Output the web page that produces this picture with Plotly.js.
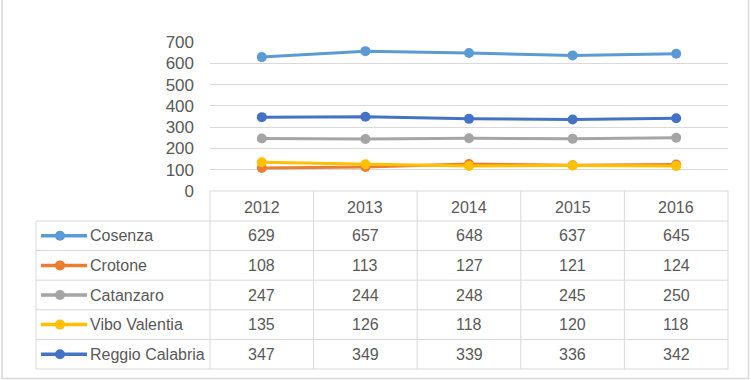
<!DOCTYPE html>
<html>
<head>
<meta charset="utf-8">
<script src="https://cdn.plot.ly/plotly-3.0.1.min.js"></script>
<style>html,body{margin:0;padding:0;background:#fff;}</style>
</head>
<body>
<div id="chart" style="width:751px;height:380px;"></div>
<script>
const years = ['2012', '2013', '2014', '2015', '2016'];
const seriesNames = ['Cosenza', 'Crotone', 'Catanzaro', 'Vibo Valentia', 'Reggio Calabria'];
const cosenza = [629, 657, 648, 637, 645];
const crotone = [108, 113, 127, 121, 124];
const catanzaro = [247, 244, 248, 245, 250];
const viboValentia = [135, 126, 118, 120, 118];
const reggioCalabria = [347, 349, 339, 336, 342];
const yTicks = [0, 100, 200, 300, 400, 500, 600, 700];

const seriesValues = [cosenza, crotone, catanzaro, viboValentia, reggioCalabria];
const colors = ['#5B9BD5', '#ED7D31', '#A5A5A5', '#FFC000', '#4472C4'];

const W = 751, H = 380;
const L = 210, R = 728, T = 42, B = 191;
const pw = R - L, ph = B - T;
const px = x => (x - L) / pw;
const py = y => (B - y) / ph;

const gridCol = '#d9d9d9';
const textCol = '#595959';
const font = 'Liberation Sans, Arial, sans-serif';

const traces = seriesNames.map((n, i) => ({
  type: 'scatter', mode: 'lines+markers', name: n,
  x: years, y: seriesValues[i],
  line: {color: colors[i], width: 3},
  marker: {color: colors[i], size: 10},
  hoverinfo: 'skip'
}));

const shapes = [];
const annotations = [];
const nCols = years.length;
const headerTop = 191, headerBot = 221;
const rowH = 29.6;
const tableLeft = 36;
const rowBot = i => headerBot + (i + 1) * rowH;
const tableBot = rowBot(seriesNames.length - 1);

// vertical lines of the year columns
for (let c = 0; c <= nCols; c++) {
  const xp = c / nCols;
  shapes.push({type: 'line', xref: 'paper', yref: 'paper', x0: xp, x1: xp,
    y0: py(headerTop), y1: py(tableBot), line: {color: gridCol, width: 1}});
}
// left border of series rows
shapes.push({type: 'line', xref: 'paper', yref: 'paper', x0: px(tableLeft), x1: px(tableLeft),
  y0: py(headerBot), y1: py(tableBot), line: {color: gridCol, width: 1}});
// horizontal lines
shapes.push({type: 'line', xref: 'paper', yref: 'paper', x0: 0, x1: 1,
  y0: py(headerTop), y1: py(headerTop), line: {color: gridCol, width: 1}});
shapes.push({type: 'line', xref: 'paper', yref: 'paper', x0: px(tableLeft), x1: 1,
  y0: py(headerBot), y1: py(headerBot), line: {color: gridCol, width: 1}});
for (let r = 0; r < seriesNames.length; r++) {
  const yb = rowBot(r);
  shapes.push({type: 'line', xref: 'paper', yref: 'paper', x0: px(tableLeft), x1: 1,
    y0: py(yb), y1: py(yb), line: {color: gridCol, width: 1}});
}
// outer frame
shapes.push({type: 'rect', xref: 'paper', yref: 'paper', x0: px(2), x1: px(748.5),
  y0: py(378.5), y1: py(-2), line: {color: gridCol, width: 1.5}, fillcolor: 'rgba(0,0,0,0)'});

// header text
years.forEach((yr, c) => {
  annotations.push({xref: 'paper', yref: 'paper', x: (c + 0.5) / nCols, y: py((headerTop + headerBot) / 2 + 1),
    text: yr, showarrow: false, xanchor: 'center', yanchor: 'middle',
    font: {family: font, size: 16, color: textCol}});
});
// rows
seriesNames.forEach((n, r) => {
  const yc = headerBot + (r + 0.5) * rowH;
  // legend icon
  shapes.push({type: 'line', xref: 'paper', yref: 'paper', x0: px(41), x1: px(87),
    y0: py(yc), y1: py(yc), line: {color: colors[r], width: 3.5}});
  shapes.push({type: 'circle', xref: 'paper', yref: 'paper', x0: px(55), x1: px(65),
    y0: py(yc + 5), y1: py(yc - 5), line: {width: 0}, fillcolor: colors[r]});
  annotations.push({xref: 'paper', yref: 'paper', x: px(88), y: py(yc),
    text: n, showarrow: false, xanchor: 'left', yanchor: 'middle',
    font: {family: font, size: 16, color: textCol}});
  seriesValues[r].forEach((v, c) => {
    annotations.push({xref: 'paper', yref: 'paper', x: (c + 0.5) / nCols, y: py(yc),
      text: String(v), showarrow: false, xanchor: 'center', yanchor: 'middle',
      font: {family: font, size: 16, color: textCol}});
  });
});

const layout = {
  width: W, height: H,
  margin: {l: L, r: W - R, t: T, b: H - B, pad: 0},
  paper_bgcolor: '#ffffff', plot_bgcolor: '#ffffff',
  showlegend: false,
  xaxis: {type: 'category', range: [-0.5, 4.5], showticklabels: false, showgrid: false,
    zeroline: false, showline: false, ticks: ''},
  yaxis: {range: [0, 700], tickvals: yTicks, ticktext: yTicks.map(String),
    showgrid: true, gridcolor: gridCol, gridwidth: 1, zeroline: false, showline: false,
    ticks: '', ticklabelstandoff: 15,
    tickfont: {family: font, size: 17, color: textCol}},
  shapes: shapes,
  annotations: annotations
};

Plotly.newPlot('chart', traces, layout, {staticPlot: true, displayModeBar: false});
</script>
</body>
</html>
